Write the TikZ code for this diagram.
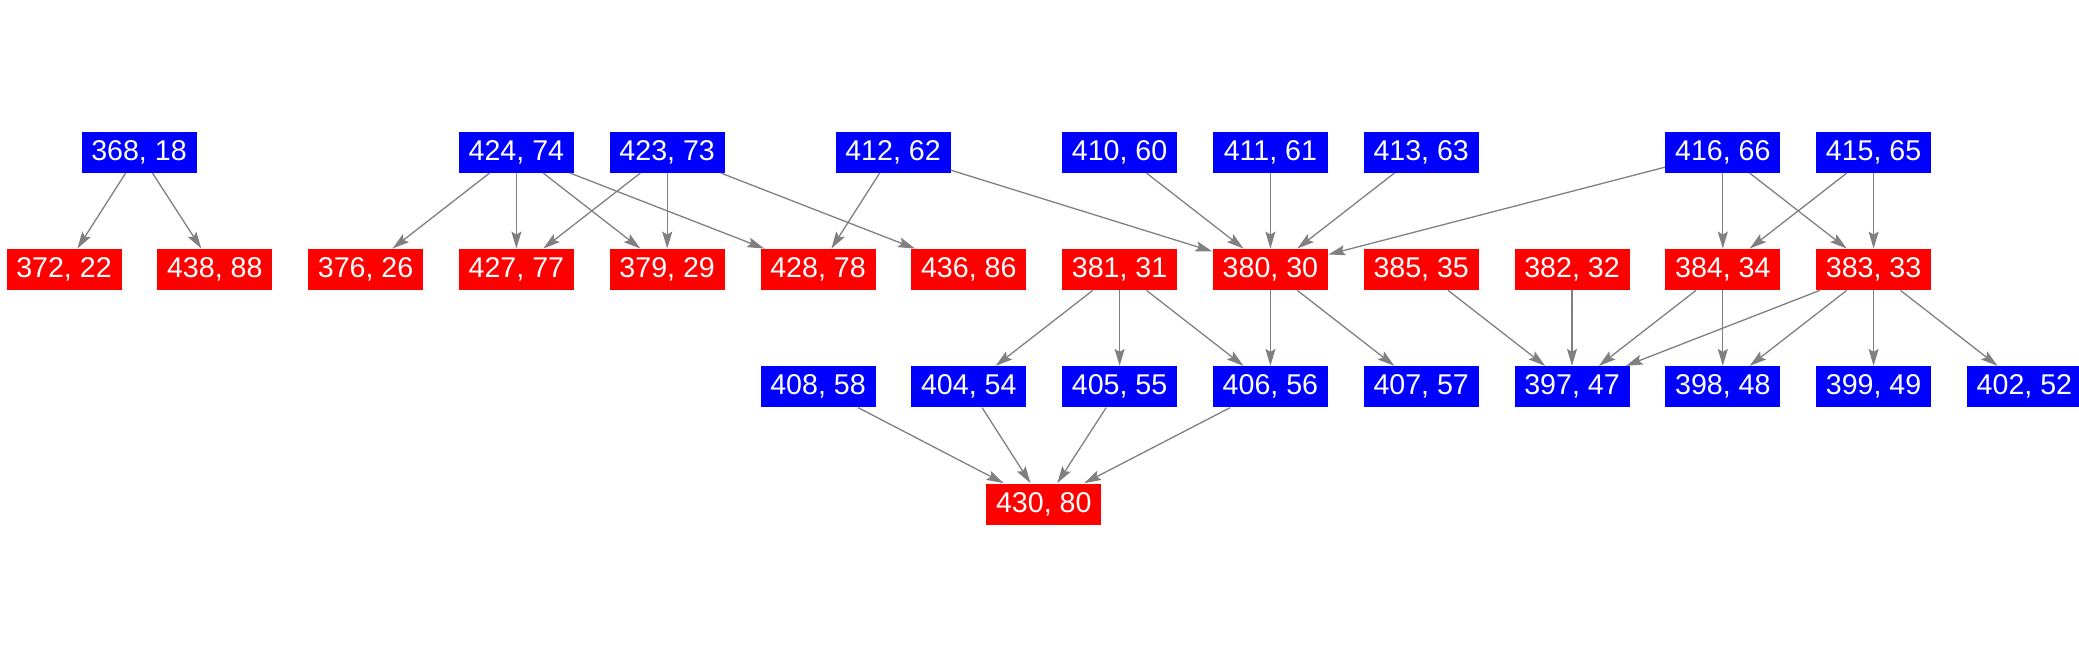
\documentclass[tikz,border=0pt]{standalone}
\usepackage{fontspec}
\setmainfont{Liberation Sans}
\usepackage{tikz}
\usetikzlibrary{positioning,arrows.meta}

\begin{document}
\begin{tikzpicture}
    [box/.style={rectangle,minimum width=57.5pt,minimum height=20.5pt,inner sep=0pt,
       text=white,font=\fontsize{14.3}{16}\selectfont, node distance=37.75pt and 17.5pt},
     bluebox/.style={box,fill=blue},
     redbox/.style={box,fill=red},
     link/.style={draw=gray,line width=0.65pt,
       >={Stealth[length=8.5pt,width=5pt,inset=1.5pt]}}]

    \useasboundingbox (0,0) rectangle (1039.5pt,-328pt);

    % middle row
    \node[redbox] (n372) at (32pt,-134.75pt) {372, 22};
    \node[redbox] (n438) [right=of n372] {438, 88};
    \node[redbox] (n376) [right=of n438] {376, 26};
    \node[redbox] (n427) [right=of n376] {427, 77};
    \node[redbox] (n379) [right=of n427] {379, 29};
    \node[redbox] (n428) [right=of n379] {428, 78};
    \node[redbox] (n436) [right=of n428] {436, 86};
    \node[redbox] (n381) [right=of n436] {381, 31};
    \node[redbox] (n380) [right=of n381] {380, 30};
    \node[redbox] (n385) [right=of n380] {385, 35};
    \node[redbox] (n382) [right=of n385] {382, 32};
    \node[redbox] (n384) [right=of n382] {384, 34};
    \node[redbox] (n383) [right=of n384] {383, 33};

    % top row
    \node[bluebox] (n368) [above=of n372, xshift=37.5pt] {368, 18}
      edge [link,->] (n372)
      edge [link,->] (n438);
    \node[bluebox] (n424) [above=of n427] {424, 74}
      edge [link,->] (n376)
      edge [link,->] (n427)
      edge [link,->] (n379)
      edge [link,->] (n428);
    \node[bluebox] (n423) [above=of n379] {423, 73}
      edge [link,->] (n427)
      edge [link,->] (n379)
      edge [link,->] (n436);
    \node[bluebox] (n412) [above=of n428, xshift=37.5pt] {412, 62}
      edge [link,->] (n428)
      edge [link,->] (n380);
    \node[bluebox] (n410) [above=of n381] {410, 60}
      edge [link,->] (n380);
    \node[bluebox] (n411) [above=of n380] {411, 61}
      edge [link,->] (n380);
    \node[bluebox] (n413) [above=of n385] {413, 63}
      edge [link,->] (n380);
    \node[bluebox] (n416) [above=of n384] {416, 66}
      edge [link,->] (n380)
      edge [link,->] (n384)
      edge [link,->] (n383);
    \node[bluebox] (n415) [above=of n383] {415, 65}
      edge [link,->] (n384)
      edge [link,->] (n383);

    % lower row
    \node[bluebox] (n408) [below=of n428] {408, 58};
    \node[bluebox] (n404) [below=of n436] {404, 54}
      edge [link,<-] (n381);
    \node[bluebox] (n405) [below=of n381] {405, 55}
      edge [link,<-] (n381);
    \node[bluebox] (n406) [below=of n380] {406, 56}
      edge [link,<-] (n381)
      edge [link,<-] (n380);
    \node[bluebox] (n407) [below=of n385] {407, 57}
      edge [link,<-] (n380);
    \node[bluebox] (n397) [below=of n382] {397, 47}
      edge [link,<-] (n385)
      edge [link,<-] (n382)
      edge [link,<-] (n384)
      edge [link,<-] (n383);
    \node[bluebox] (n398) [below=of n384] {398, 48}
      edge [link,<-] (n384)
      edge [link,<-] (n383);
    \node[bluebox] (n399) [below=of n383] {399, 49}
      edge [link,<-] (n383);
    \node[bluebox] (n402) [right=of n399] {402, 52}
      edge [link,<-] (n383);

    % bottom
    \node[redbox] (n430) [below=of n404, xshift=37.5pt] {430, 80}
      edge [link,<-] (n408)
      edge [link,<-] (n404)
      edge [link,<-] (n405)
      edge [link,<-] (n406);
  \end{tikzpicture}
\end{document}
